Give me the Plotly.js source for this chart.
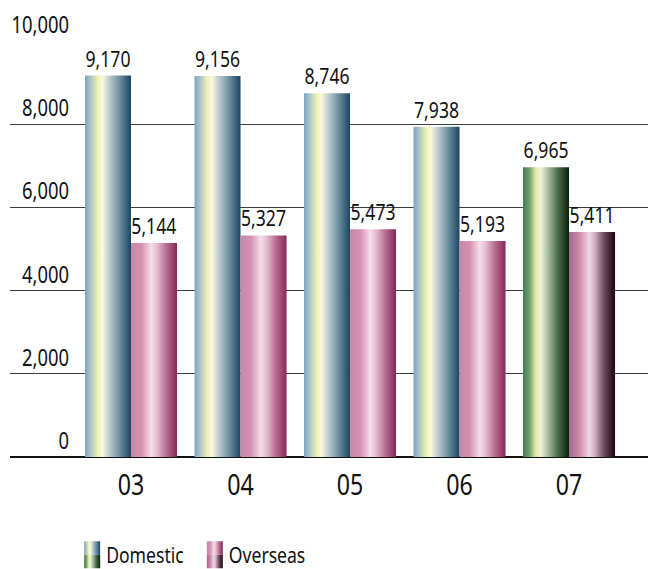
<!DOCTYPE html>
<html>
<head>
<meta charset="utf-8">
<script src="https://cdn.plot.ly/plotly-3.0.1.min.js"></script>
<style>
  html, body { margin: 0; padding: 0; background: #fff; }
  #chart { width: 648px; height: 569px; }
</style>
</head>
<body>
<div id="chart"></div>
<script>
// Fiscal years and sales (units) per market
const years = ['03', '04', '05', '06', '07'];
const domestic = [9170, 9156, 8746, 7938, 6965];
const overseas = [5144, 5327, 5473, 5193, 5411];
const yTicks = [0, 2000, 4000, 6000, 8000, 10000];

const FONT = '"Noto Sans", sans-serif';
const NARROW = 0.8;   // horizontal squeeze giving the condensed lettering

// Horizontal gradient ramps used to shade the bars (offset %, colour)
const ramps = {
  blue:  [[0, '#78a4c8'], [14, '#b4cac4'], [28, '#eef2b4'], [38, '#fbf9de'], [54, '#b9c9ca'], [76, '#6a8ca0'], [100, '#1a4460']],
  green: [[0, '#3c7c4e'], [14, '#73a173'], [28, '#e2eba8'], [38, '#f2f2d4'], [54, '#a8c0a2'], [76, '#496a48'], [100, '#08200a']],
  pink:  [[0, '#c48aa8'], [22, '#d690b0'], [44, '#f5dde8'], [56, '#e6bfd0'], [76, '#b87092'], [100, '#862656']],
  plum:  [[0, '#a06890'], [22, '#d088a8'], [44, '#f0d8e4'], [56, '#cfb0c0'], [76, '#6e4c5e'], [100, '#1e000e']]
};

const domesticRamp = years.map((y, i) => i === years.length - 1 ? 'green' : 'blue');
const overseasRamp = years.map((y, i) => i === years.length - 1 ? 'plum' : 'pink');

const traces = [
  {
    type: 'bar', name: 'Domestic', x: years, y: domestic,
    marker: { color: '#9ab4c0', line: { width: 0 } },
    texttemplate: '%{y:,}', textposition: 'outside', constraintext: 'none', cliponaxis: false,
    textfont: { family: FONT, size: 22, color: '#111' }
  },
  {
    type: 'bar', name: 'Overseas', x: years, y: overseas,
    marker: { color: '#d8a0bc', line: { width: 0 } },
    texttemplate: '%{y:,}', textposition: 'outside', constraintext: 'none', cliponaxis: false,
    textfont: { family: FONT, size: 22, color: '#111' }
  }
];

const W = 648, H = 569, L = 10, R = 0, T = 41, B = 112;
const plotW = W - L - R;
const layout = {
  width: W, height: H,
  margin: { l: L, r: R, t: T, b: B, pad: 0, autoexpand: false },
  paper_bgcolor: '#fff', plot_bgcolor: '#fff',
  font: { family: FONT, color: '#111' },
  barmode: 'group', bargap: 0.16, bargroupgap: 0,
  showlegend: true,
  legend: {
    orientation: 'h', x: 0.088, xanchor: 'left', y: -0.2356, yanchor: 'middle',
    font: { family: FONT, size: 22, color: '#111' }, itemgap: 12,
    bgcolor: 'rgba(0,0,0,0)', borderwidth: 0
  },
  xaxis: {
    type: 'category', range: [-1.105, 4.721], showgrid: false, showline: false,
    zeroline: false, ticks: '', ticklabelstandoff: 8, automargin: false,
    tickfont: { family: FONT, size: 29, color: '#111' },
    fixedrange: true
  },
  yaxis: {
    range: [0, 10000], tickvals: yTicks, tickformat: ',d',
    anchor: 'free', position: (69 - L) / plotW, side: 'left', automargin: false,
    ticklabelposition: 'outside top', ticks: '',
    showline: false, showgrid: true, gridcolor: '#3c3c3c', gridwidth: 1.2,
    zeroline: true, zerolinecolor: '#111', zerolinewidth: 2,
    tickfont: { family: FONT, size: 23, color: '#111' },
    fixedrange: true
  }
};

function stopsFor(grad, ramp) {
  ramp.forEach(([off, col]) => {
    const s = document.createElementNS('http://www.w3.org/2000/svg', 'stop');
    s.setAttribute('offset', off + '%');
    s.setAttribute('stop-color', col);
    grad.appendChild(s);
  });
}

function shadeBars(gd) {
  const svg = gd.querySelector('svg.main-svg');
  let defs = svg.querySelector('defs');
  if (!defs) {
    defs = document.createElementNS('http://www.w3.org/2000/svg', 'defs');
    svg.insertBefore(defs, svg.firstChild);
  }
  Object.keys(ramps).forEach(k => {
    const g = document.createElementNS('http://www.w3.org/2000/svg', 'linearGradient');
    g.setAttribute('id', 'ramp-' + k);
    g.setAttribute('x1', '0'); g.setAttribute('x2', '1');
    g.setAttribute('y1', '0'); g.setAttribute('y2', '0');
    stopsFor(g, ramps[k]);
    defs.appendChild(g);
  });

  const rampSets = [domesticRamp, overseasRamp];
  gd.querySelectorAll('.barlayer .trace').forEach((tr, ti) => {
    tr.querySelectorAll('.point path').forEach((p, pi) => {
      p.style.fill = 'url(#ramp-' + rampSets[ti][pi] + ')';
    });
  });

  // Legend swatches: tall key split into the two colourways of each series
  const legendPairs = [['blue', 'green'], ['pink', 'plum']];
  gd.querySelectorAll('.legend .traces').forEach((tr, ti) => {
    const p = tr.querySelector('.legendpoints path');
    if (!p) return;
    p.setAttribute('d', 'M-2,-13.5H14V0H-2Z');
    p.style.fill = 'url(#ramp-' + legendPairs[ti][0] + ')';
    p.style.stroke = 'none';
    const q = p.cloneNode(true);
    q.setAttribute('d', 'M-2,0H14V13.5H-2Z');
    q.style.fill = 'url(#ramp-' + legendPairs[ti][1] + ')';
    p.parentNode.appendChild(q);
  });
}

// Squeeze every label horizontally about its own anchor point
function condenseText(gd) {
  // pull later legend entries in by the width the earlier names lose
  let saved = 0;
  gd.querySelectorAll('.legend .traces').forEach(tr => {
    const m = /translate\(\s*([-\d.]+)[ ,]+([-\d.]+)\s*\)/.exec(tr.getAttribute('transform') || '');
    if (m && saved) tr.setAttribute('transform', `translate(${parseFloat(m[1]) - saved},${m[2]})`);
    const t = tr.querySelector('text.legendtext');
    if (t) saved += t.getComputedTextLength() * (1 - NARROW);
  });
  gd.querySelectorAll('text').forEach(t => {
    const x = parseFloat(t.getAttribute('x')) || 0;
    const tr = t.getAttribute('transform') || '';
    t.setAttribute('transform', `${tr} translate(${x},0) scale(${NARROW},1) translate(${-x},0)`);
  });
}

Plotly.newPlot('chart', traces, layout, { staticPlot: true, displayModeBar: false })
  .then(gd => { shadeBars(gd); condenseText(gd); });
</script>
</body>
</html>
